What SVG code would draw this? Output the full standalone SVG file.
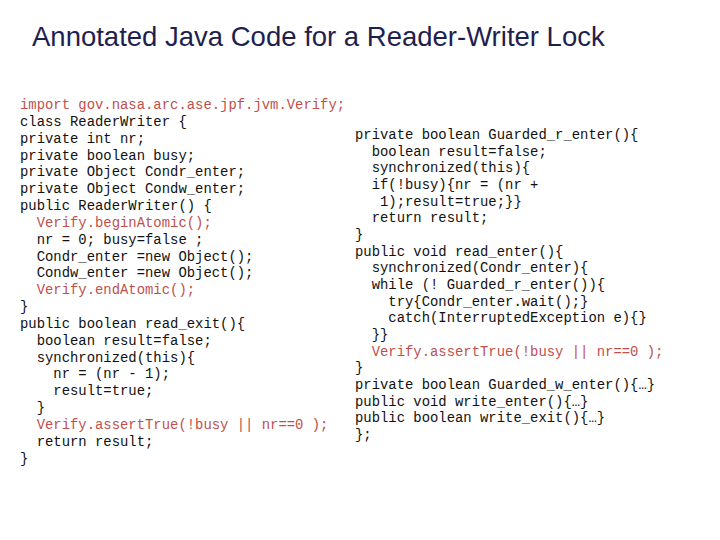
<svg xmlns="http://www.w3.org/2000/svg" width="720" height="540" viewBox="0 0 720 540">
<style>
.t{font-family:"Liberation Sans",Arial,sans-serif;font-size:27.5px;fill:#1f1f4f}
.c{font-family:"Liberation Mono","Courier New",monospace;font-size:13.9px;fill:#111;white-space:pre}
.r{fill:#c0504d}
</style>
<rect width="720" height="540" fill="#fff"/>
<text class="t" x="32" y="46">Annotated Java Code for a Reader-Writer Lock</text>
<g id="left" class="c" xml:space="preserve">
<text x="20" y="109" class="c r">import gov.nasa.arc.ase.jpf.jvm.Verify;</text>
<text x="20" y="126" class="c">class ReaderWriter {</text>
<text x="20" y="143" class="c">private int nr;</text>
<text x="20" y="160" class="c">private boolean busy;</text>
<text x="20" y="176" class="c">private Object Condr_enter;</text>
<text x="20" y="193" class="c">private Object Condw_enter;</text>
<text x="20" y="210" class="c">public ReaderWriter() {</text>
<text x="20" y="227" class="c r">  Verify.beginAtomic();</text>
<text x="20" y="244" class="c">  nr = 0; busy=false ;</text>
<text x="20" y="261" class="c">  Condr_enter =new Object();</text>
<text x="20" y="277" class="c">  Condw_enter =new Object();</text>
<text x="20" y="294" class="c r">  Verify.endAtomic();</text>
<text x="20" y="311" class="c">}</text>
<text x="20" y="328" class="c">public boolean read_exit(){</text>
<text x="20" y="345" class="c">  boolean result=false;</text>
<text x="20" y="362" class="c">  synchronized(this){</text>
<text x="20" y="378" class="c">    nr = (nr - 1);</text>
<text x="20" y="395" class="c">    result=true;</text>
<text x="20" y="412" class="c">  }</text>
<text x="20" y="429" class="c r">  Verify.assertTrue(!busy || nr==0 );</text>
<text x="20" y="446" class="c">  return result;</text>
<text x="20" y="463" class="c">}</text>
</g>
<g id="right" class="c" xml:space="preserve">
<text x="355" y="139" class="c">private boolean Guarded_r_enter(){</text>
<text x="355" y="156" class="c">  boolean result=false;</text>
<text x="355" y="172" class="c">  synchronized(this){</text>
<text x="355" y="189" class="c">  if(!busy){nr = (nr +</text>
<text x="355" y="206" class="c">   1);result=true;}}</text>
<text x="355" y="222" class="c">  return result;</text>
<text x="355" y="239" class="c">}</text>
<text x="355" y="256" class="c">public void read_enter(){</text>
<text x="355" y="272" class="c">  synchronized(Condr_enter){</text>
<text x="355" y="289" class="c">  while (! Guarded_r_enter()){</text>
<text x="355" y="306" class="c">    try{Condr_enter.wait();}</text>
<text x="355" y="322" class="c">    catch(InterruptedException e){}</text>
<text x="355" y="339" class="c">  }}</text>
<text x="355" y="356" class="c r">  Verify.assertTrue(!busy || nr==0 );</text>
<text x="355" y="372" class="c">}</text>
<text x="355" y="389" class="c">private boolean Guarded_w_enter(){…}</text>
<text x="355" y="406" class="c">public void write_enter(){…}</text>
<text x="355" y="422" class="c">public boolean write_exit(){…}</text>
<text x="355" y="439" class="c">};</text>
</g>
</svg>
